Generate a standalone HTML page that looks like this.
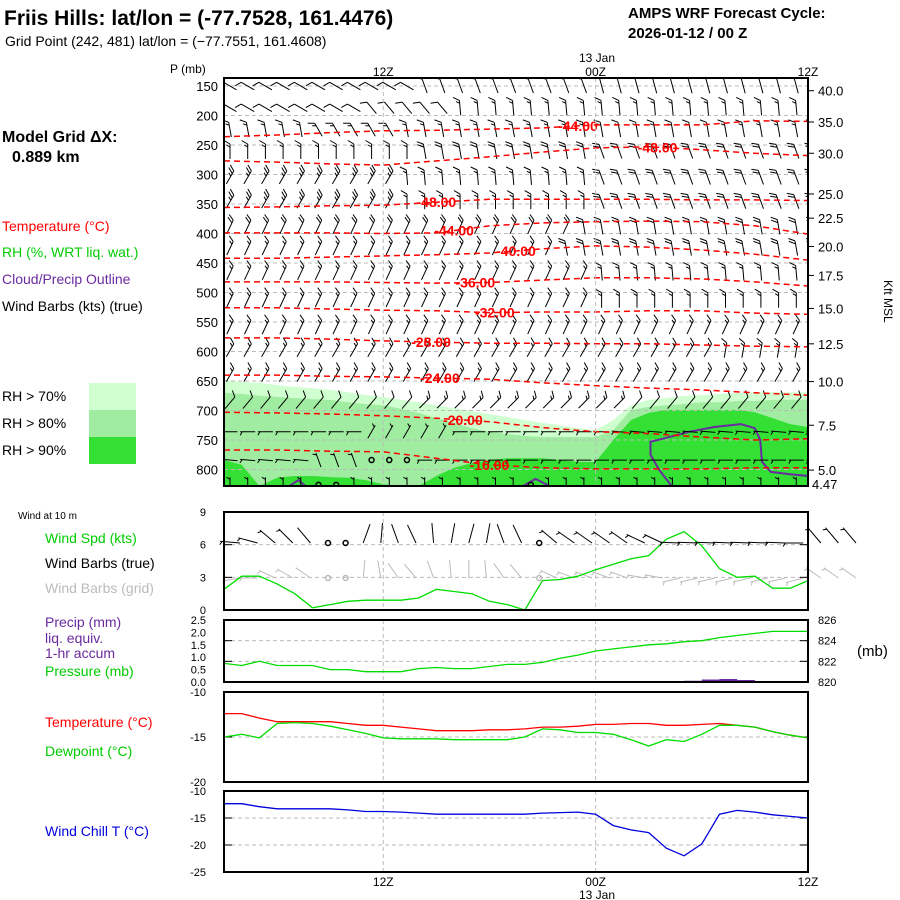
<!DOCTYPE html>
<html><head><meta charset="utf-8"><style>
html,body{margin:0;padding:0;background:#fff;width:900px;height:900px;overflow:hidden}
svg{display:block}
text{font-family:"Liberation Sans",sans-serif}
.t{font-size:14px}
.n{font-size:13px}
</style></head><body>
<svg id="chart" width="900" height="900" viewBox="0 0 900 900" xmlns="http://www.w3.org/2000/svg">
<defs>
<clipPath id="mainClip"><rect x="224" y="78" width="584" height="408"/></clipPath>
</defs>
<text x="4" y="25" font-size="21" font-weight="bold">Friis Hills:  lat/lon = (-77.7528, 161.4476)</text>
<text x="5" y="46" font-size="14">Grid Point (242, 481) lat/lon = (−77.7551, 161.4608)</text>
<text x="628" y="18" font-size="15" font-weight="bold">AMPS WRF Forecast Cycle:</text>
<text x="628" y="38" font-size="15" font-weight="bold">2026-01-12 / 00  Z</text>
<text x="2" y="142" font-size="16" font-weight="bold">Model Grid ΔX:</text>
<text x="12" y="162" font-size="16" font-weight="bold">0.889 km</text>
<text x="2" y="231" class="t" fill="#ff0000">Temperature (°C)</text>
<text x="2" y="257" class="t" fill="#00cc00">RH (%, WRT liq. wat.)</text>
<text x="2" y="284" class="t" fill="#6a2aa0">Cloud/Precip Outline</text>
<text x="2" y="311" class="t" fill="#000">Wind Barbs (kts) (true)</text>
<rect x="89" y="383" width="47" height="27" fill="#d0ffd0"/>
<rect x="89" y="410" width="47" height="27" fill="#a0eca0"/>
<rect x="89" y="437" width="47" height="27" fill="#33e033"/>
<text x="2" y="401" class="t">RH &gt; 70%</text>
<text x="2" y="428" class="t">RH &gt; 80%</text>
<text x="2" y="455" class="t">RH &gt; 90%</text>
<text x="170" y="73" font-size="12">P (mb)</text>
<text x="597" y="62" font-size="12" text-anchor="middle">13 Jan</text>
<text x="18" y="519" font-size="10">Wind at 10 m</text>
<text x="45" y="543" class="t" fill="#00cc00">Wind Spd (kts)</text>
<text x="45" y="568" class="t">Wind Barbs (true)</text>
<text x="45" y="593" class="t" fill="#bbbbbb">Wind Barbs (grid)</text>
<text x="45" y="627" class="t" fill="#6a2aa0">Precip (mm)</text>
<text x="45" y="643" class="t" fill="#6a2aa0">liq. equiv.</text>
<text x="45" y="658" class="t" fill="#6a2aa0">1-hr accum</text>
<text x="45" y="676" class="t" fill="#00cc00">Pressure (mb)</text>
<text x="857" y="656" font-size="15">(mb)</text>
<text x="45" y="727" class="t" fill="#ff0000">Temperature (°C)</text>
<text x="45" y="756" class="t" fill="#00cc00">Dewpoint (°C)</text>
<text x="45" y="836" class="t" fill="#0000dd">Wind Chill T (°C)</text>
<text x="597" y="899" font-size="12" text-anchor="middle">13 Jan</text>
<text transform="translate(884,280) rotate(90)" font-size="12">Kft MSL</text>
<g id="layer"></g>
</svg>
<script>
// ---------- data ----------
const timeTicks = ["12Z","00Z","12Z"];
const timeTickHours = [9,21,33];
const pressureTicks = [150,200,250,300,350,400,450,500,550,600,650,700,750,800];
const heightLabels = ["40.0","35.0","30.0","25.0","22.5","20.0","17.5","15.0","12.5","10.0","7.5","5.0"];
const heightPres = [158,211,264,333,374,422,471,527,587,651,725,801];

// RH top boundaries (mb) per hour
const rh70Top = [648,652,653,657,660,662,665,669,674,677,682,686,691,696,701,706,711,716,721,725,730,733,716,691,682,679,675,674,672,670,669,669,669,669];
const rh80Top = [670,672,675,677,679,681,682,686,689,691,697,704,713,721,730,736,740,743,745,745,745,745,733,699,694,691,689,686,686,684,684,682,682,682];
const rh90Top = [784,792,828,814,811,811,813,814,818,825,828,828,811,797,789,784,781,781,781,784,787,787,750,716,704,699,699,699,699,699,703,713,723,728];

// temperature contours sampled every 3 h
const contourHours = [0,3,6,9,12,15,18,21,24,27,30,33];
const isoM44a = [236,233,229,226,225,223,221,216,216,216,209,210];
const isoM48a = [277,279,282,284,277,270,262,255,253,258,264,268];
const isoM48b = [356,355,353,352,347,342,342,342,342,343,343,344];
const isoM44b = [399,399,399,400,399,387,382,380,379,380,387,401];
const isoM40 = [442,442,440,438,436,433,426,421,423,428,435,445];
const isoM36 = [482,482,482,483,484,483,479,475,475,477,482,489];
const isoM32 = [526,526,528,530,531,534,533,533,531,531,535,537];
const isoM28 = [577,577,579,582,584,586,586,587,587,589,591,592];
const isoM24 = [640,640,642,643,645,647,653,658,662,665,670,674];
const isoM20 = [703,704,706,709,713,719,729,736,739,745,750,748];
const isoM16 = [767,767,769,770,781,792,797,799,799,799,797,797];
const contourValues = [-44,-48,-48,-44,-40,-36,-32,-28,-24,-20,-16];
const contourLabelHours = [20,24.5,12,13,16.5,14.2,15.3,11.7,12.2,13.5,15];

// cloud outline
const cloudHours = [25.3,24.6,24.1,24.1,24.9,26.3,27.7,29.2,30,30.3,30.4,30.9,32,33];
const cloudPres = [828,801,775,753,747,736,728,723,730,750,787,804,808,811];
const cloud2Hours = [3.7,4.2,4.6];
const cloud2Pres = [828,818,828];
const cloud3Hours = [16.9,17.6,18.4];
const cloud3Pres = [828,816,828];

// upper-air barb levels (mb) and run-length [count, dir, speed]
const barbLevels = [150,187,224,261,305,346,389,425,467,513,559,598,640,687,736,784,826];
const barbRow0 = [[11,300,10],[10,340,10],[13,345,10]];
const barbRow1 = [[8,300,10],[5,320,10],[21,355,15]];
const barbRow2 = [[5,350,15],[5,330,15],[24,350,15]];
const barbRow3 = [[11,0,15],[10,350,20],[13,340,20]];
const barbRow4 = [[10,30,25],[11,355,15],[13,340,20]];
const barbRow5 = [[10,30,25],[11,0,15],[13,340,20]];
const barbRow6 = [[20,25,20],[14,350,20]];
const barbRow7 = [[19,25,15],[15,350,20]];
const barbRow8 = [[21,25,15],[13,355,15]];
const barbRow9 = [[21,25,15],[13,0,15]];
const barbRow10 = [[34,25,15]];
const barbRow11 = [[28,30,15],[6,10,15]];
const barbRow12 = [[34,30,15]];
const barbRow13 = [[11,40,10],[12,45,15],[11,40,10]];
const barbRow14 = [[8,270,5],[5,30,3],[9,270,5],[12,275,5]];
const barbRow15 = [[5,275,5],[3,340,3],[3,0,0],[6,270,3],[17,270,5]];
const barbRow16 = [[5,0,3],[2,0,0],[10,0,3],[1,0,0],[16,0,3]];

// surface
const windSpeed = [1.9,3.1,3.1,2.4,1.5,0.2,0.5,0.8,0.9,0.9,0.9,1.1,1.9,1.7,1.5,0.8,0.5,0.0,2.7,2.8,3.1,3.7,4.2,4.7,5.0,6.5,7.2,5.9,3.8,3.0,3.1,2.0,2.0,2.7];
const wind10Dir = [275,285,310,315,320,0,0,20,5,340,335,355,10,15,10,340,335,0,310,305,305,305,305,295,295,272,272,272,272,272,272,272,270,320,320,320];
const wind10Spd = [5,5,5,3,2,0,0,2,2,2,2,2,2,2,2,2,2,0,5,5,5,5,5,5,5,6,6,6,6,6,6,6,5,3,3,3];
const gridRotation = -15;
const surfPressure = [821.8,821.6,822.0,821.6,821.6,821.6,821.2,821.2,821.0,821.0,821.0,821.3,821.4,821.3,821.3,821.5,821.7,821.7,821.9,822.3,822.6,823.0,823.2,823.4,823.6,823.7,823.9,824.0,824.3,824.5,824.7,824.9,824.9,824.9];
const precip = [0,0,0,0,0,0,0,0,0,0,0,0,0,0,0,0,0,0,0,0,0,0,0,0,0,0,0.05,0.1,0.12,0.08,0,0,0,0];
const temp2m = [-12.4,-12.4,-12.9,-13.3,-13.3,-13.3,-13.3,-13.5,-13.7,-13.7,-13.9,-14.1,-14.3,-14.3,-14.3,-14.2,-14.2,-14.1,-13.9,-13.9,-13.8,-13.6,-13.6,-13.5,-13.5,-13.7,-13.7,-13.6,-13.5,-13.7,-13.9,-14.4,-14.8,-15.1];
const dew2m = [-15.0,-14.7,-15.1,-13.5,-13.4,-13.5,-13.8,-14.2,-14.6,-15.1,-15.2,-15.2,-15.2,-15.3,-15.3,-15.3,-15.3,-15.0,-14.1,-14.2,-14.5,-14.5,-14.7,-15.3,-16.0,-15.3,-15.5,-14.7,-13.7,-13.7,-13.9,-14.4,-14.8,-15.1];
const windChill = [-12.35,-12.35,-12.9,-13.3,-13.3,-13.3,-13.3,-13.5,-13.8,-13.8,-13.9,-14.1,-14.3,-14.3,-14.3,-14.3,-14.3,-14.3,-14.1,-14.0,-13.9,-14.3,-16.4,-17.2,-17.7,-20.6,-22.0,-19.8,-14.3,-13.6,-13.9,-14.4,-14.7,-15.0];
const windTicks = [0,3,6,9];
const precipTicks = ["0.0","0.5","1.0","1.5","2.0","2.5"];
const presTicks = [820,822,824,826];
const tempTicks = [-10,-15,-20];
const chillTicks = [-10,-15,-20,-25];

// ---------- scales ----------
const X0 = 224, X1 = 808;
const xH = h => X0 + h * (X1 - X0) / 33;
const yP = p => 86 + (p - 150) * 29.5 / 50;
const yW = v => 610 - v * 98 / 9;
const yPre = p => 682 - (p - 820) * 62 / 6;
const yPr = mm => 682 - mm * 62 / 2.5;
const yT = t => 692 + (-10 - t) * 9;
const yC = t => 791 + (-10 - t) * 81 / 15;

const NS = "http://www.w3.org/2000/svg";
const layer = document.getElementById("layer");
function mk(tag, attrs, parent) {
  const e = document.createElementNS(NS, tag);
  for (const k in attrs) e.setAttribute(k, attrs[k]);
  (parent || layer).appendChild(e);
  return e;
}
function txt(x, y, s, attrs, parent) {
  const e = mk("text", Object.assign({x: x, y: y}, attrs || {}), parent);
  e.textContent = s;
  return e;
}

// ---------- main panel ----------
const mainG = mk("g", {"clip-path": "url(#mainClip)"});



function rhFill(tops, color, name) {
  let d = "M" + xH(0) + "," + yP(828);
  tops.forEach((p, i) => { d += " L" + xH(i) + "," + yP(Math.min(p, 828)); });
  d += " L" + xH(33) + "," + yP(828) + " Z";
  const e = mk("path", {d: d, fill: color}, mainG);
  
  
}
rhFill(rh70Top, "#d0ffd0", "rh70-region");
rhFill(rh80Top, "#a0eca0", "rh80-region");
rhFill(rh90Top, "#33e033", "rh90-region");

// grid lines
pressureTicks.forEach(p => {
  const l = mk("line", {x1: X0, x2: X1, y1: yP(p), y2: yP(p), stroke: "#bbb", "stroke-dasharray": "4,3", "stroke-width": 1}, mainG);
  
  
});

function polyPath(hs, ps, yf) {
  return hs.map((h, i) => (i ? "L" : "M") + xH(h).toFixed(1) + "," + yf(ps[i]).toFixed(1)).join(" ");
}
// cloud outlines
[[cloudHours, cloudPres], [cloud2Hours, cloud2Pres], [cloud3Hours, cloud3Pres]].forEach(c => {
  const e = mk("path", {d: polyPath(c[0], c[1], yP), fill: "none", stroke: "#6a2aa0", "stroke-width": 2}, mainG);
  
  
});

// barbs
function barb(parent, gx, gy, dir, spd, L, color, centered, name) {
  if (spd <= 0) {
    const c = mk("circle", {cx: gx, cy: gy, r: 2.5, fill: "none", stroke: color, "stroke-width": 1.5}, parent);
    
    
    return;
  }
  const th = dir * Math.PI / 180;
  const ux = Math.sin(th), uy = -Math.cos(th);
  let sx = gx, sy = gy;
  if (centered) { sx = gx - ux * L / 2; sy = gy - uy * L / 2; }
  const ex = sx + ux * L, ey = sy + uy * L;
  const lx = uy, ly = -ux;
  let d = "M" + sx.toFixed(1) + "," + sy.toFixed(1) + " L" + ex.toFixed(1) + "," + ey.toFixed(1);
  let s = Math.round(spd / 5) * 5, off = 0;
  while (s >= 10) {
    const bx = ex - ux * off, by = ey - uy * off;
    d += " M" + bx.toFixed(1) + "," + by.toFixed(1) + " l" + (7 * (0.87 * lx + 0.5 * ux)).toFixed(1) + "," + (7 * (0.87 * ly + 0.5 * uy)).toFixed(1);
    s -= 10; off += 3;
  }
  if (s >= 5) {
    if (off === 0) off = 2;
    const bx = ex - ux * off, by = ey - uy * off;
    d += " M" + bx.toFixed(1) + "," + by.toFixed(1) + " l" + (4 * (0.87 * lx + 0.5 * ux)).toFixed(1) + "," + (4 * (0.87 * ly + 0.5 * uy)).toFixed(1);
  }
  const e = mk("path", {d: d, fill: "none", stroke: color, "stroke-width": 1}, parent);
  
  
}
const barbRows = [barbRow0,barbRow1,barbRow2,barbRow3,barbRow4,barbRow5,barbRow6,barbRow7,barbRow8,barbRow9,barbRow10,barbRow11,barbRow12,barbRow13,barbRow14,barbRow15,barbRow16];
barbRows.forEach((row, li) => {
  let h = 0;
  row.forEach(run => {
    for (let k = 0; k < run[0]; k++) {
      barb(mainG, xH(h) + 6, yP(barbLevels[li]), run[1], run[2], 15, "#000", true, "upper-wind-barb");
      h++;
    }
  });
});

// temperature contours
const contourSeries = [isoM44a, isoM48a, isoM48b, isoM44b, isoM40, isoM36, isoM32, isoM28, isoM24, isoM20, isoM16];
contourSeries.forEach((ser, i) => {
  const e = mk("path", {d: polyPath(contourHours, ser, yP), fill: "none", stroke: "#ff0000", "stroke-width": 1.5, "stroke-dasharray": "6,4"}, mainG);
  
  
  const lh = contourLabelHours[i];
  let j = 0; while (j < contourHours.length - 2 && contourHours[j + 1] < lh) j++;
  const f = (lh - contourHours[j]) / (contourHours[j + 1] - contourHours[j]);
  const lp = ser[j] + (ser[j + 1] - ser[j]) * f;
  const t = txt(xH(lh), yP(lp) + 5, contourValues[i].toFixed(2), {"font-size": 14, "font-weight": "bold", fill: "#ff0000", "text-anchor": "middle"}, mainG);
  
  
});

// time gridlines across panels
timeTickHours.slice(0, 2).forEach(h => {
  [[78, 486], [512, 610], [620, 682], [692, 782], [791, 872]].forEach(r => {
    const l = mk("line", {x1: xH(h), x2: xH(h), y1: r[0], y2: r[1], stroke: "#bbb", "stroke-dasharray": "4,3"});
    
    
  });
});

// main axes
const mainFrame = mk("rect", {x: X0, y: 78, width: X1 - X0, height: 408, fill: "none", stroke: "#000", "stroke-width": 2});


pressureTicks.forEach(p => {
  const t = txt(218, yP(p) + 5, String(p), {class: "n", "text-anchor": "end"});
  
  
});
heightLabels.forEach((s, i) => {
  const t = txt(818, yP(heightPres[i]) + 5, s, {class: "n"});
  
  
  const tk = mk("line", {x1: X1, x2: X1 + 6, y1: yP(heightPres[i]), y2: yP(heightPres[i]), stroke: "#000"});
  
  
});
const sfcLab = txt(812, 489, "4.47", {class: "n"});


timeTickHours.forEach((h, i) => {
  const t = txt(xH(h), 76, timeTicks[i], {"font-size": 12, "text-anchor": "middle"});
  
  
  const b = txt(xH(h), 886, timeTicks[i], {"font-size": 12, "text-anchor": "middle"});
  
  
});

// ---------- lower panels ----------
function frame(y0, y1, name) {
  const r = mk("rect", {x: X0, y: y0, width: X1 - X0, height: y1 - y0, fill: "none", stroke: "#000", "stroke-width": 2});
  
  
}
function hgrid(y, name) {
  const l = mk("line", {x1: X0, x2: X1, y1: y, y2: y, stroke: "#bbb", "stroke-dasharray": "4,3"});
  
  
  const a = mk("line", {x1: X0, x2: X0 + 8, y1: y, y2: y, stroke: "#000"});
  
  
  const b = mk("line", {x1: X1 - 8, x2: X1, y1: y, y2: y, stroke: "#000"});
  
  
}
function line(vals, yf, color, name) {
  const e = mk("path", {d: polyPath(vals.map((v, i) => i), vals, yf), fill: "none", stroke: color, "stroke-width": 1.3});
  
  
}

// wind panel
windTicks.forEach(v => {
  if (v === 3 || v === 6) hgrid(yW(v), 'wind-gridline');
  const t = txt(206, yW(v) + 4, String(v), {"font-size": 11, "text-anchor": "end"});
  
  
});
wind10Dir.forEach((d, i) => {
  barb(layer, 240 + i * 17.6, 578, d + gridRotation, wind10Spd[i], 18, "#bbbbbb", false, "grid-wind-barb");
});
line(windSpeed, yW, "#00dd00", "wind-speed-line");
wind10Dir.forEach((d, i) => {
  barb(layer, 240 + i * 17.6, 543, d, wind10Spd[i], 20, "#000", false, "true-wind-barb");
});
frame(512, 610, 'wind-panel-frame');

// precip / pressure panel
precipTicks.forEach(s => {
  const y = yPr(parseFloat(s));
  const t = txt(206, y + 4, s, {"font-size": 11, "text-anchor": "end"});
  
  
});
presTicks.forEach(p => {
  if (p === 822 || p === 824) hgrid(yPre(p), 'pressure-gridline-sfc');
  const t = txt(818, yPre(p) + 4, String(p), {"font-size": 11});
  
  
});
precip.forEach((v, i) => {
  if (v > 0) {
    const r = mk("rect", {x: xH(i), y: yPr(v), width: xH(i + 1) - xH(i), height: 682 - yPr(v), fill: "#6a2aa0"});
    
    
  }
});
line(surfPressure, yPre, "#00dd00", "surface-pressure-line");
frame(620, 682, 'precip-panel-frame');

// temperature panel
tempTicks.forEach(v => {
  if (v === -15) hgrid(yT(v), 'temperature-gridline');
  const t = txt(206, yT(v) + 4, String(v), {"font-size": 11, "text-anchor": "end"});
  
  
});
line(temp2m, yT, "#ff0000", "temperature-line");
line(dew2m, yT, "#00dd00", "dewpoint-line");
frame(692, 782, 'temperature-panel-frame');

// wind chill panel
chillTicks.forEach(v => {
  if (v === -15 || v === -20) hgrid(yC(v), 'wind-chill-gridline');
  const t = txt(206, yC(v) + 4, String(v), {"font-size": 11, "text-anchor": "end"});
  
  
});
line(windChill, yC, "#0000dd", "wind-chill-line");
frame(791, 872, 'wind-chill-panel-frame');
</script>
</body></html>
